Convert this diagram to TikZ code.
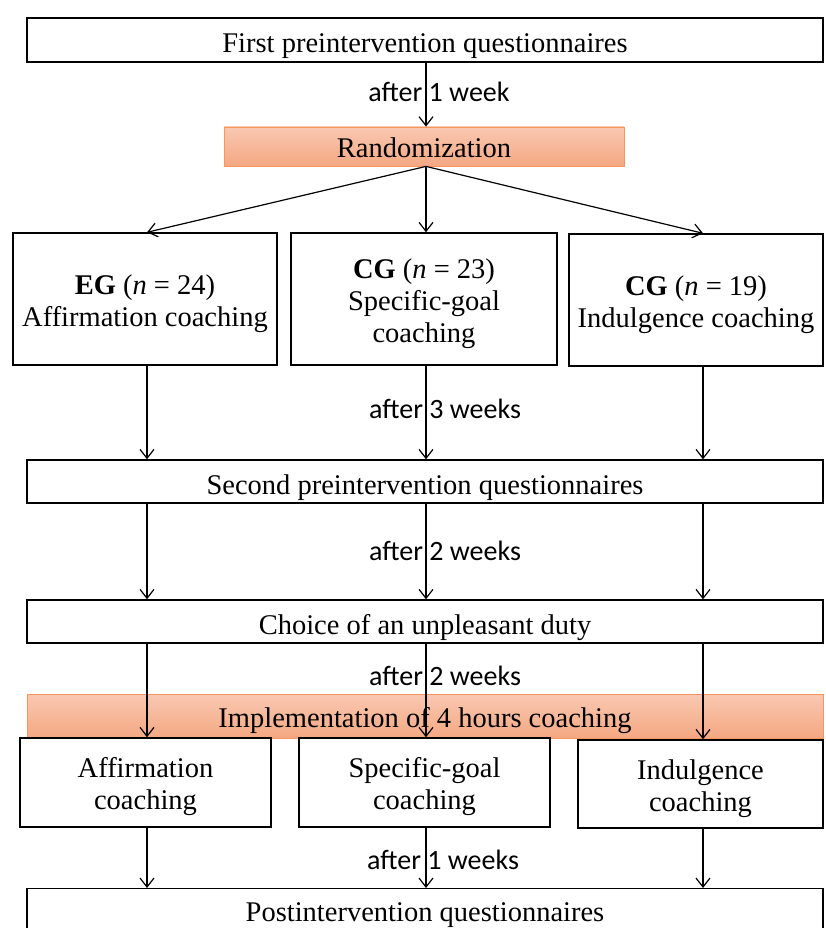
\documentclass[tikz,border=0pt]{standalone}
\usepackage{fontspec}
\setmainfont{Liberation Serif}
\newfontfamily\calib{Carlito}
\usetikzlibrary{arrows.meta}
\definecolor{ortop}{RGB}{249,200,178}
\definecolor{orbot}{RGB}{244,168,130}
\definecolor{orline}{RGB}{247,150,90}
\newcommand{\mlines}[1]{\raisebox{-5pt}[\height][\depth]{\begin{tabular}{@{}c@{}}#1\end{tabular}}}
\tikzset{
  box/.style={draw=black, line width=1.4pt, fill=white, inner sep=0pt, align=center,
    font=\fontsize{28.5}{32}\selectfont},
  sbox/.style={box, text height=27pt, text depth=2pt},
  obox/.style={draw=orline, line width=0.8pt, top color=ortop, bottom color=orbot,
    inner sep=0pt, align=center, text height=26pt, text depth=3pt, font=\fontsize{28.5}{32}\selectfont},
  arr/.style={line width=1.2pt, -{Straight Barb[length=9pt,width=14pt,line width=1.2pt]}},
  lbl/.style={font=\calib\fontsize{28}{32}\selectfont, inner sep=0pt}
}
\begin{document}
\begin{tikzpicture}[x=1pt,y=-1pt]
\clip (0,0) rectangle (825,928);
\fill[white] (0,0) rectangle (825,928);
\coordinate (xL) at (147,0);
\coordinate (xM) at (426,0);
\coordinate (xR) at (703,0);
% nodes
\node[sbox, minimum width=796, minimum height=44] (top) at (425,40) {First preintervention questionnaires};
\node[obox, minimum width=400, minimum height=39] (rand) at (424,146.5) {Randomization};
\node[box, minimum width=264, minimum height=132] (eg) at (145,299) {\mlines{\textbf{EG} (\textit{n} = 24)\\Affirmation coaching}};
\node[box, minimum width=266, minimum height=132] (cga) at (424,299) {\mlines{\textbf{CG} (\textit{n} = 23)\\Specific-goal\\coaching}};
\node[box, minimum width=254, minimum height=132] (cgb) at (696,300) {\mlines{\textbf{CG} (\textit{n} = 19)\\Indulgence coaching}};
\node[sbox, minimum width=796, minimum height=43] (second) at (425,481.5) {Second preintervention questionnaires};
\node[sbox, minimum width=796, minimum height=43] (choice) at (425,621.5) {Choice of an unpleasant duty};
\node[obox, minimum width=796, minimum height=44] (impl) at (425,716) {Implementation of 4 hours coaching};
\node[box, minimum width=251, minimum height=89] (aff) at (145.5,782.5) {\mlines{Affirmation\\coaching}};
\node[box, minimum width=251, minimum height=89] (spec) at (424.5,782.5) {\mlines{Specific-goal\\coaching}};
\node[box, minimum width=245, minimum height=88] (ind) at (700.5,784) {\mlines{Indulgence\\coaching}};
\node[box, minimum width=796, minimum height=50, anchor=north] (post) at (425,888) {};
\node[font=\fontsize{28.5}{32}\selectfont, inner sep=0pt] (posttxt) at (425,915) {Postintervention questionnaires};
% labels
\node[lbl] (l1) at (439,92) {after 1 week};
\node[lbl] (l2) at (445,409) {after 3 weeks};
\node[lbl] (l3) at (445,551) {after 2 weeks};
\node[lbl] (l4) at (445,676) {after 2 weeks};
\node[lbl] (l5) at (443,860) {after 1 weeks};
% connectors
\draw[arr] (top.south -| xM) -- (rand.north -| xM);
\draw[arr] (rand.south -| xM) -- (eg.north -| xL);
\draw[arr] (rand.south -| xM) -- (cga.north -| xM);
\draw[arr] (rand.south -| xM) -- (cgb.north -| xR);
\draw[arr] (eg.south -| xL) -- (second.north -| xL);
\draw[arr] (cga.south -| xM) -- (second.north -| xM);
\draw[arr] (cgb.south -| xR) -- (second.north -| xR);
\draw[arr] (second.south -| xL) -- (choice.north -| xL);
\draw[arr] (second.south -| xM) -- (choice.north -| xM);
\draw[arr] (second.south -| xR) -- (choice.north -| xR);
\draw[arr] (choice.south -| xL) -- (aff.north -| xL);
\draw[arr] (choice.south -| xM) -- (spec.north -| xM);
\draw[arr] (choice.south -| xR) -- (ind.north -| xR);
\draw[arr] (aff.south -| xL) -- (post.north -| xL);
\draw[arr] (spec.south -| xM) -- (post.north -| xM);
\draw[arr] (ind.south -| xR) -- (post.north -| xR);
\end{tikzpicture}
\end{document}
